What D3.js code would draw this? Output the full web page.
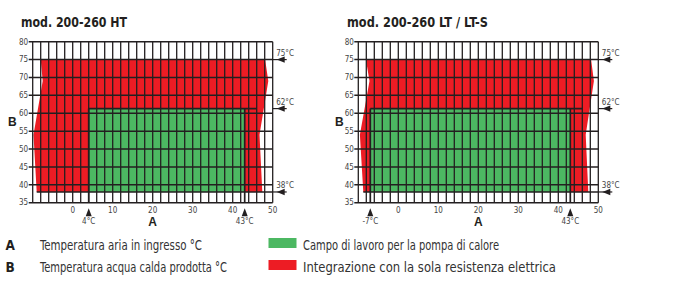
<!DOCTYPE html>
<html>
<head>
<meta charset="utf-8">
<script src="https://cdn.jsdelivr.net/npm/d3@7/dist/d3.min.js"></script>
<style>
  body { margin: 0; background: #fff; }
  svg { display: block; font-family: "DejaVu Sans Condensed", "Liberation Sans", sans-serif; }
  .tick-label { fill: #444; font-size: 8px; }
  .title { font-weight: bold; font-size: 14px; fill: #231f20; }
  .axis-name { font-weight: bold; font-size: 12px; fill: #231f20; font-family: "Liberation Sans", Arial, sans-serif; }
  .legend-text { font-size: 13.5px; fill: #333; }
</style>
</head>
<body>
<svg id="chart" width="673" height="285"></svg>
<script>
// chart values
const panelTitles = ['mod. 200-260 HT', 'mod. 200-260 LT / LT-S'];
const xTicks = [0, 10, 20, 30, 40, 50];
const yTicks = [35, 40, 45, 50, 55, 60, 65, 70, 75, 80];
const levelValues = [75, 61.3, 38];
const levelLabels = ['75°C', '62°C', '38°C'];
// red envelope, left edge then right edge, top to bottom
const redLeftHT = [[-8, 75], [-7.5, 69], [-9.8, 54], [-9, 38]];
const redRightHT = [[48.1, 75], [48.9, 69], [46.7, 54], [47.4, 38]];
const redLeftLT = [[-8.1, 75], [-7.2, 69], [-9.6, 54], [-8.75, 38]];
const redRightLT = [[48.2, 75], [48.9, 69], [46.85, 54], [47.5, 38]];
// green heat pump range [minAir, maxAir]
const greenHT = [4, 43];
const greenLT = [-7, 43];
const greenTopEnd = 46;
const legendKeys = ['A', 'B'];
const legendNames = ['Temperatura aria in ingresso °C', 'Temperatura acqua calda prodotta °C'];
const legendFills = ['Campo di lavoro per la pompa di calore', 'Integrazione con la sola resistenza elettrica'];

const RED = '#ed1c24', GREEN = '#4cb862', INK = '#231f20';

const svg = d3.select('#chart');

const x = d3.scaleLinear().domain([-10, 50]).range([0, 240]);
const y = d3.scaleLinear().domain([35, 80]).range([161, 0]);

// text widths measured on the reference (condensed face)
const fit = (sel, w) => sel.attr('textLength', w).attr('lengthAdjust', 'spacingAndGlyphs');

const panels = [
  {title: panelTitles[0], tx: 32.7, redL: redLeftHT, redR: redRightHT, green: greenHT, titleX: 21, titleW: 106, bX: 8},
  {title: panelTitles[1], tx: 358.3, redL: redLeftLT, redR: redRightLT, green: greenLT, titleX: 347, titleW: 141, bX: 335}
];

panels.forEach(p => {
  svg.append('text').attr('class', 'title')
    .attr('x', p.titleX).attr('y', 27).text(p.title)
    .call(fit, p.titleW);

  svg.append('text').attr('class', 'axis-name')
    .attr('x', p.bX).attr('y', 126).text('B');

  const g = svg.append('g').attr('transform', `translate(${p.tx},41.7)`);

  // red zone
  const poly = p.redL.concat(p.redR.slice().reverse());
  g.append('path')
    .attr('d', d3.line().x(d => x(d[0])).y(d => y(d[1]))(poly) + 'Z')
    .attr('fill', RED);

  // green zone
  g.append('rect')
    .attr('x', x(p.green[0])).attr('y', y(levelValues[1]))
    .attr('width', x(p.green[1]) - x(p.green[0]))
    .attr('height', y(levelValues[2]) - y(levelValues[1]))
    .attr('fill', GREEN);

  // vertical grid every 2 units
  g.selectAll('.vgrid').data(d3.range(-10, 51, 2)).enter().append('line')
    .attr('x1', d => x(d)).attr('x2', d => x(d))
    .attr('y1', y(80)).attr('y2', y(35))
    .attr('stroke', INK).attr('stroke-width', 1.3);

  // horizontal grid
  g.selectAll('.hgrid').data(yTicks).enter().append('line')
    .attr('x1', x(-10) - 4).attr('x2', x(50))
    .attr('y1', d => y(d)).attr('y2', d => y(d))
    .attr('stroke', INK).attr('stroke-width', 1.5);

  // y labels
  g.selectAll('.ylab').data(yTicks).enter().append('text')
    .attr('class', 'tick-label')
    .attr('x', x(-10) - 4.5).attr('y', d => y(d)).attr('dy', '0.35em')
    .attr('text-anchor', 'end').text(d => d);

  // x labels
  g.selectAll('.xlab').data(xTicks).enter().append('text')
    .attr('class', 'tick-label')
    .attr('x', d => x(d)).attr('y', y(35) + 10)
    .attr('text-anchor', 'middle').text(d => d);

  // green outline and marker verticals
  g.append('line')
    .attr('x1', x(p.green[0])).attr('x2', x(greenTopEnd))
    .attr('y1', y(levelValues[1])).attr('y2', y(levelValues[1]))
    .attr('stroke', INK).attr('stroke-width', 1.6);
  p.green.forEach(v => {
    g.append('line')
      .attr('x1', x(v)).attr('x2', x(v))
      .attr('y1', y(levelValues[1])).attr('y2', y(35))
      .attr('stroke', INK).attr('stroke-width', 1.7);
    g.append('path')
      .attr('d', `M${x(v)},${y(35) + 5.5}l-3,8h6z`)
      .attr('fill', INK);
    g.append('text').attr('class', 'tick-label')
      .attr('x', x(v)).attr('y', y(35) + 21.5)
      .attr('text-anchor', 'middle').text(`${v}°C`);
  });

  // bottom 38 line across the zones
  g.append('line')
    .attr('x1', x(p.redL[3][0])).attr('x2', x(50))
    .attr('y1', y(levelValues[2])).attr('y2', y(levelValues[2]))
    .attr('stroke', INK).attr('stroke-width', 1.5);

  // level markers on the right
  levelValues.forEach((v, i) => {
    g.append('line')
      .attr('x1', x(50)).attr('x2', x(50) + 14)
      .attr('y1', y(v)).attr('y2', y(v))
      .attr('stroke', INK).attr('stroke-width', 1.2);
    g.append('path')
      .attr('d', `M${x(50) + 4},${y(v)}l8,-3.2v6.4z`)
      .attr('fill', INK);
    g.append('text').attr('class', 'tick-label')
      .attr('x', x(50) + 3.5).attr('y', y(v) - 4)
      .text(levelLabels[i]);
  });

  svg.append('text').attr('class', 'axis-name')
    .attr('x', p.tx + x(20)).attr('y', 226)
    .attr('text-anchor', 'middle').text('A');
});

// legend
const nameW = [162, 187];
const fillW = [196, 253];
legendKeys.forEach((k, i) => {
  const by = i === 0 ? 249.5 : 271.5;
  svg.append('text').attr('class', 'legend-text')
    .attr('x', 5.5).attr('y', by)
    .style('font-weight', 'bold').style('fill', INK).text(k);
  svg.append('text').attr('class', 'legend-text')
    .attr('x', 40).attr('y', by).text(legendNames[i])
    .call(fit, nameW[i]);
  svg.append('rect')
    .attr('x', 268.5).attr('y', by - 11.5)
    .attr('width', 28).attr('height', 10)
    .attr('fill', i === 0 ? GREEN : RED);
  svg.append('text').attr('class', 'legend-text')
    .attr('x', 303).attr('y', by).text(legendFills[i])
    .call(fit, fillW[i]);
});
</script>
</body>
</html>
